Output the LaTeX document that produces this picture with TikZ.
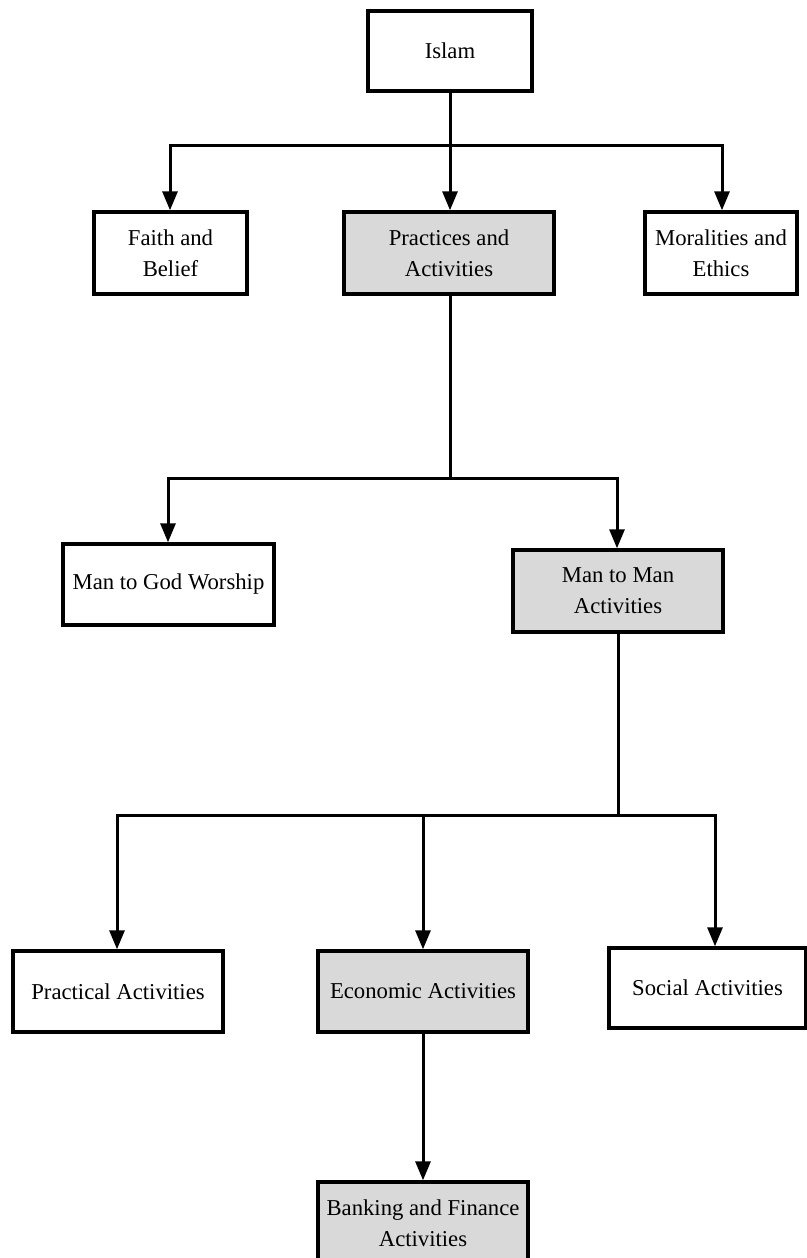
\documentclass[tikz,border=0pt]{standalone}
\usepackage{fontspec}
\setmainfont{Liberation Serif}
\usetikzlibrary{arrows.meta,calc}

\tikzset{
  box/.style={draw=black, line width=3.4bp, fill=white, rectangle, inner sep=0pt,
              align=center, font=\fontsize{22.7bp}{31bp}\selectfont},
  graybox/.style={box, fill=gray!30},
  link/.style={line width=3bp, line cap=rect},
  arrowlink/.style={line width=3bp, -{Triangle[width=15bp,length=19bp]}},
}

\begin{document}
\begin{tikzpicture}[x=1bp,y=-1bp]
  \clip (0,0) rectangle (807,1258);
  \fill[white] (0,0) rectangle (807,1258);

  % nodes
  \node[box, minimum width=164bp, minimum height=80bp] (islam) at (450,51) {Islam};
  \node[box, minimum width=153bp, minimum height=82bp] (faith) at (170.5,253) {Faith and\\Belief};
  \node[graybox, minimum width=210bp, minimum height=82bp] (practices) at (449,253) {Practices and\\Activities};
  \node[box, minimum width=152bp, minimum height=82bp] (moral) at (721,253) {Moralities and\\Ethics};

  \node[box, minimum width=211bp, minimum height=81bp] (god) at (168.5,584.5) {Man to God Worship};
  \node[graybox, minimum width=210bp, minimum height=82bp] (man) at (618,591) {Man to Man\\Activities};

  \node[box, minimum width=210bp, minimum height=81bp] (practical) at (118,991.5) {Practical Activities};
  \node[graybox, minimum width=210bp, minimum height=81bp] (economic) at (423,991.5) {Economic Activities};
  \node[box, minimum width=197bp, minimum height=80bp] (social) at (707.5,988) {Social Activities};

  \node[graybox, minimum width=210bp, minimum height=82bp] (banking) at (423,1223) {Banking and Finance\\Activities};

  % first split: Islam into its three branches
  \coordinate (b1) at (450,145);
  \coordinate (b1l) at (170,145);
  \coordinate (b1r) at (722,145);
  \draw[link] (b1l) -- (b1r);
  \draw[arrowlink] (islam.south) -- (practices.north -| islam.south);
  \draw[arrowlink] (b1l) -- (b1l |- faith.north);
  \draw[arrowlink] (b1r) -- (b1r |- moral.north);

  % second split: practices into worship and human dealings
  \coordinate (b2) at (450,478);
  \coordinate (b2l) at (168,478);
  \coordinate (b2r) at (617,478);
  \draw[link] (practices.south -| b2) -- (b2);
  \draw[link] (b2l) -- (b2r);
  \draw[arrowlink] (b2l) -- (b2l |- god.north);
  \draw[arrowlink] (b2r) -- (b2r |- man.north);

  % third split: human dealings into three kinds of activity
  \coordinate (b3) at (618,815);
  \coordinate (b3l) at (117,815);
  \coordinate (b3m) at (423,815);
  \coordinate (b3r) at (715,815);
  \draw[link] (man.south) -- (b3);
  \draw[link] (b3l) -- (b3r);
  \draw[arrowlink] (b3l) -- (b3l |- practical.north);
  \draw[arrowlink] (b3m) -- (b3m |- economic.north);
  \draw[arrowlink] (b3r) -- (b3r |- social.north);

  % economic activities lead to banking and finance
  \draw[arrowlink] (economic.south) -- (banking.north);
\end{tikzpicture}
\end{document}
